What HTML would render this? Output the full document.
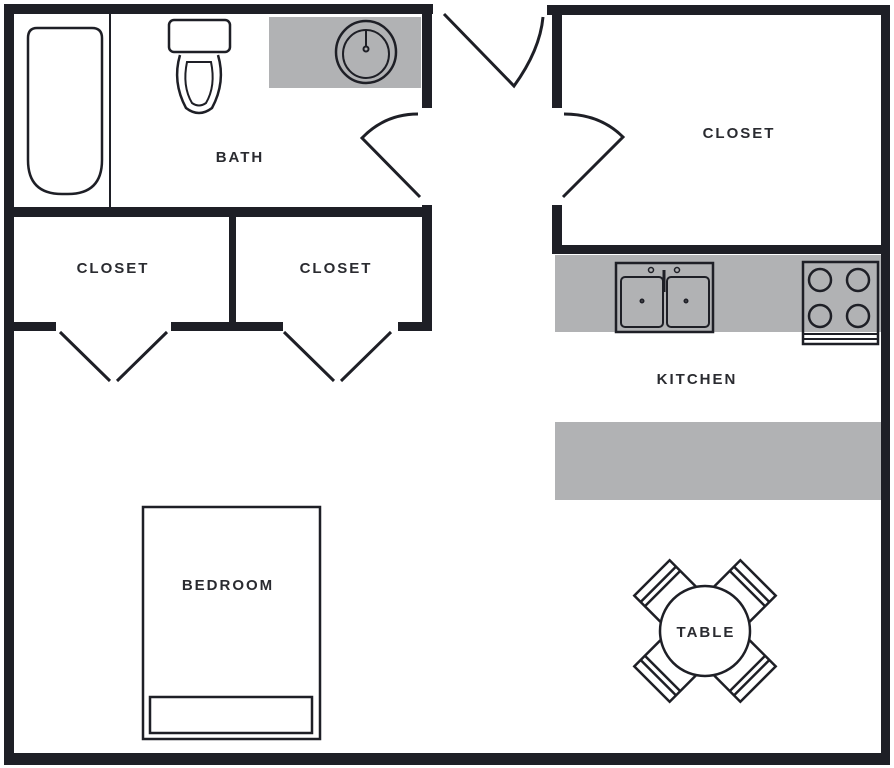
<!DOCTYPE html>
<html><head><meta charset="utf-8"><style>
html,body{margin:0;padding:0;background:#fff;}
svg{display:block;}
text{font-family:"Liberation Sans",sans-serif;font-weight:bold;font-size:15px;fill:#2a2b30;letter-spacing:2px;text-anchor:middle;}
</style></head><body>
<svg width="894" height="768" viewBox="0 0 894 768" xmlns="http://www.w3.org/2000/svg">
<rect width="894" height="768" fill="#fff"/>
<rect x="269" y="17" width="152" height="71" fill="#b1b2b4"/>
<rect x="555" y="255" width="326" height="77" fill="#b1b2b4"/>
<rect x="555" y="422" width="326" height="78" fill="#b1b2b4"/>
<g fill="#1e1f26">
<rect x="4" y="4" width="10" height="761"/>
<rect x="4" y="4" width="429" height="10"/>
<rect x="547" y="5" width="343" height="10"/>
<rect x="881" y="5" width="9" height="760"/>
<rect x="4" y="753" width="886" height="12"/>
<rect x="422" y="4" width="10" height="104"/>
<rect x="422" y="205" width="10" height="125"/>
<rect x="4" y="207" width="428" height="10"/>
<rect x="229" y="217" width="7" height="111"/>
<rect x="4" y="322" width="52" height="9"/>
<rect x="171" y="322" width="112" height="9"/>
<rect x="398" y="322" width="34" height="9"/>
<rect x="552" y="5" width="10" height="103"/>
<rect x="552" y="205" width="10" height="49"/>
<rect x="552" y="245" width="338" height="9"/>
</g>
<g fill="none" stroke="#1e1f26" stroke-width="3">
<line x1="110" y1="14" x2="110" y2="207" stroke-width="2"/>
<path d="M37 28 H92 Q102 28 102 38 V160 Q102 194 68 194 H62 Q28 194 28 160 V38 Q28 28 37 28 Z" stroke-width="2.5"/>
<rect x="169" y="20" width="61" height="32" rx="5" stroke-width="2.5"/>
<path d="M180 55 Q172 82 186 108 Q199 118 212 108 Q226 82 218 55" stroke-width="2.5"/>
<path d="M187 62 Q182 86 192 103 Q199 108 206 103 Q216 86 211 62 Z" stroke-width="2"/>
<ellipse cx="366" cy="52" rx="30" ry="31" stroke-width="2.5"/>
<ellipse cx="366" cy="54" rx="23" ry="24" stroke-width="2"/>
<circle cx="366" cy="49" r="2.5" stroke-width="2"/>
<line x1="366" y1="30" x2="366" y2="46" stroke-width="2"/>
<path d="M418 114 Q385 114 362 138 L420 197"/>
<path d="M60 332 L110 381 M117 381 L167 332"/>
<path d="M284 332 L334 381 M341 381 L391 332"/>
<path d="M444 14 L514 86 Q540 50 543 17"/>
<path d="M564 114 Q600 114 623 137 L563 197"/>
<rect x="616" y="263" width="97" height="69" stroke-width="2.5"/>
<rect x="621" y="277" width="42" height="50" rx="4" stroke-width="2"/>
<rect x="667" y="277" width="42" height="50" rx="4" stroke-width="2"/>
<circle cx="651" cy="270" r="2.5" stroke-width="1.5"/><circle cx="677" cy="270" r="2.5" stroke-width="1.5"/>
<line x1="664" y1="270" x2="664" y2="292" stroke-width="3"/>
<circle cx="642" cy="301" r="1.5" stroke-width="2"/><circle cx="686" cy="301" r="1.5" stroke-width="2"/>
<rect x="803" y="262" width="75" height="82" stroke-width="2.5"/>
<line x1="803" y1="334" x2="878" y2="334" stroke-width="2"/>
<line x1="803" y1="339" x2="878" y2="339" stroke-width="2"/>
<circle cx="820" cy="280" r="11" stroke-width="2.5"/><circle cx="858" cy="280" r="11" stroke-width="2.5"/>
<circle cx="820" cy="316" r="11" stroke-width="2.5"/><circle cx="858" cy="316" r="11" stroke-width="2.5"/>
<rect x="143" y="507" width="177" height="232" stroke-width="2.5"/>
<rect x="150" y="697" width="162" height="36" stroke-width="2.5"/>
<g stroke-width="2.5">
<g transform="translate(705,631) rotate(45)">
<rect x="-25" y="-75" width="50" height="37"/><line x1="-25" y1="-66" x2="25" y2="-66"/><line x1="-25" y1="-60" x2="25" y2="-60"/>
</g>
<g transform="translate(705,631) rotate(135)">
<rect x="-25" y="-75" width="50" height="37"/><line x1="-25" y1="-66" x2="25" y2="-66"/><line x1="-25" y1="-60" x2="25" y2="-60"/>
</g>
<g transform="translate(705,631) rotate(225)">
<rect x="-25" y="-75" width="50" height="37"/><line x1="-25" y1="-66" x2="25" y2="-66"/><line x1="-25" y1="-60" x2="25" y2="-60"/>
</g>
<g transform="translate(705,631) rotate(315)">
<rect x="-25" y="-75" width="50" height="37"/><line x1="-25" y1="-66" x2="25" y2="-66"/><line x1="-25" y1="-60" x2="25" y2="-60"/>
</g>
<circle cx="705" cy="631" r="45" fill="#fff"/>
</g>
</g>
<text x="240" y="162">BATH</text>
<text x="113" y="273">CLOSET</text>
<text x="336" y="273">CLOSET</text>
<text x="739" y="138">CLOSET</text>
<text x="697" y="384">KITCHEN</text>
<text x="228" y="590">BEDROOM</text>
<text x="706" y="637">TABLE</text>
</svg>
</body></html>
